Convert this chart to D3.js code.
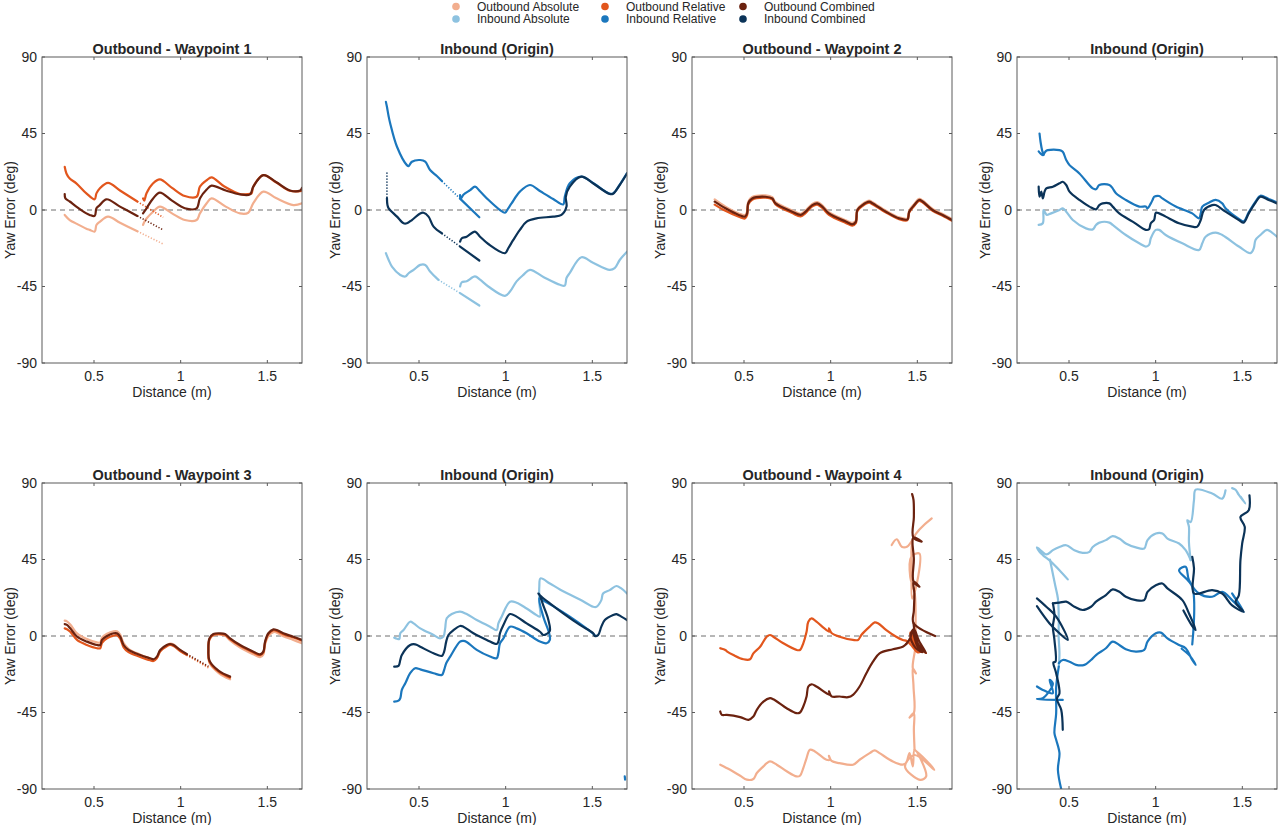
<!DOCTYPE html>
<html>
<head>
<meta charset="utf-8">
<script src="https://cdn.jsdelivr.net/npm/d3@7"></script>
<style>
  body { margin: 0; background: #fff; }
  text { font-family: "Liberation Sans", Arial, Helvetica, sans-serif; fill: #262626; }
</style>
</head>
<body>
<div id="chart"></div>
<script>
// Axis setup shared by every panel
const xDomain = [0.2, 1.7];
const yDomain = [-90, 90];
const xTicks = [0.5, 1, 1.5];
const yTicks = [-90, -45, 0, 45, 90];

const seriesNames = ["Outbound Absolute", "Outbound Relative", "Outbound Combined",
                     "Inbound Absolute", "Inbound Relative", "Inbound Combined"];
const seriesColors = ["#f2ae8e", "#e2561d", "#6b220f", "#8dc2e0", "#1b77bd", "#0b3358"];

const panelTitles = ["Outbound - Waypoint 1", "Inbound (Origin)", "Outbound - Waypoint 2", "Inbound (Origin)",
                     "Outbound - Waypoint 3", "Inbound (Origin)", "Outbound - Waypoint 4", "Inbound (Origin)"];

/* Traces, [distance (m), yaw error (deg)], one array per continuous piece.
   The *Dots arrays are the stretches where samples are sparse. */

// Outbound - Waypoint 1
const wp1Abs = [
  [[0.331,-2.9],[0.36,-5.9],[0.398,-8],[0.456,-11],[0.475,-11.7],[0.504,-12.7],[0.514,-8.8],[0.533,-7],[0.581,-3.9],[0.65,-7.5],[0.75,-12.5]],
  [[0.783,-8.8],[0.79,-7],[0.803,-5],[0.841,-1],[0.88,2],[0.95,-2],[1.024,-5.9],[1.092,-5.9],[1.111,-2],[1.15,4],[1.178,6.8],[1.26,2],[1.342,-2],[1.39,-1.6],[1.419,4],[1.477,10.8],[1.55,7],[1.65,2.9],[1.7,3.9]]
];
const wp1AbsDots = [[[0.75,-12.5],[0.899,-20]]];
const wp1Rel = [
  [[0.331,25.4],[0.341,21.5],[0.36,18.5],[0.398,15.7],[0.456,9.8],[0.504,6.3],[0.514,9.8],[0.533,12.7],[0.581,16],[0.65,11.5],[0.75,5]],
  [[0.783,6.8],[0.79,5.5],[0.803,9.8],[0.841,15.7],[0.88,18],[0.95,13],[1.024,8.2],[1.092,7.8],[1.111,13.7],[1.15,17.5],[1.178,19.2],[1.25,14],[1.342,9.4],[1.39,9.4],[1.409,9.8],[1.419,13.7],[1.477,20.5],[1.55,16.3],[1.63,11.3],[1.7,11.3]]
];
const wp1RelDots = [[[0.75,5],[0.899,-4.3]]];
const wp1Comb = [
  [[0.331,9.4],[0.335,6.8],[0.36,5],[0.398,2],[0.456,-2],[0.475,-2.9],[0.504,-3.5],[0.514,1],[0.533,2.9],[0.572,6.3],[0.65,2],[0.75,-3.5]],
  [[0.783,-2],[0.79,-1],[0.803,1],[0.841,6.8],[0.88,10.2],[0.95,5.5],[1.024,1],[1.092,1],[1.111,6.8],[1.15,12],[1.178,14.3],[1.26,11.5],[1.342,9.2],[1.4,9.2],[1.419,13.7],[1.477,20.5],[1.55,16.5],[1.63,11.5],[1.69,11.5],[1.7,13]]
];
const wp1CombDots = [[[0.75,-3.5],[0.899,-11.7]]];

// Inbound (Origin) after waypoint 1
const in1Abs = [
  [[0.309,-25.4],[0.325,-29.4],[0.344,-33.3],[0.392,-38.2],[0.421,-39.1],[0.44,-37.2],[0.469,-35.2],[0.507,-32.3],[0.536,-32.3],[0.564,-36.2],[0.612,-41.1]],
  [[0.737,-48.9],[0.848,-56.2]],
  [[0.737,-45],[0.747,-42.5],[0.775,-41.9],[0.823,-39.1],[0.852,-41],[0.9,-45],[0.996,-50.5],[1.025,-48],[1.063,-42],[1.102,-38.2],[1.14,-35.2],[1.22,-39.5],[1.313,-44],[1.341,-44.5],[1.351,-40],[1.37,-37],[1.437,-27.8],[1.504,-31],[1.6,-35.2],[1.629,-34.2],[1.658,-29.4],[1.7,-24.5]]
];
const in1AbsDots = [[[0.612,-41.1],[0.737,-48.9]]];
const in1Rel = [
  [[0.309,63.6],[0.315,60.7],[0.325,55],[0.334,50.9],[0.373,37.2],[0.43,26.4],[0.44,25.8],[0.459,28.4],[0.507,29.4],[0.536,28.4],[0.564,23.5],[0.603,20],[0.632,17]],
  [[0.737,6.7],[0.848,-4.3]],
  [[0.737,8.8],[0.74,6.5],[0.756,9],[0.795,11.7],[0.823,13.7],[0.852,11],[0.9,6],[0.967,0],[0.996,-1.6],[1.015,1],[1.034,3.9],[1.082,10.8],[1.14,14.7],[1.2,11],[1.274,6.5],[1.332,3.3],[1.341,7.8],[1.37,15.7],[1.437,19.6],[1.504,15.9],[1.6,9.6],[1.62,9.8],[1.658,14.9],[1.7,21.7]]
];
const in1RelDots = [[[0.632,17],[0.737,6.7]]];
const in1Comb = [
  [[0.315,7],[0.318,3],[0.325,1],[0.373,-3.9],[0.411,-7.8],[0.43,-7.8],[0.459,-5.9],[0.507,-2],[0.526,-1.6],[0.555,-3.9],[0.584,-9.8],[0.632,-13.7]],
  [[0.737,-21.5],[0.848,-29.7]],
  [[0.737,-18.6],[0.747,-16.6],[0.775,-15.7],[0.823,-12.7],[0.852,-15.7],[0.9,-20],[0.996,-25.4],[1.015,-22.5],[1.044,-17.6],[1.082,-11.7],[1.121,-6.8],[1.178,-4.9],[1.274,-3.9],[1.322,-2.9],[1.351,2],[1.347,7.8],[1.37,13.7],[1.437,19.6],[1.504,15.7],[1.6,9.4],[1.62,9.6],[1.658,14.7],[1.7,21.5]]
];
const in1CombDots = [[[0.315,22],[0.315,7]], [[0.632,-13.7],[0.737,-21.5]]];

// Outbound - Waypoint 2
const wp2Abs = [
  [[0.331,6.2],[0.393,2],[0.47,-2],[0.505,-3],[0.518,-1],[0.524,4.8],[0.547,7.6],[0.624,8.6],[0.663,7.6],[0.682,4.6],[0.778,-0.3],[0.827,-2.2],[0.855,-0.3],[0.894,3.6],[0.923,4.6],[0.952,2.7],[0.99,-1.3],[1.087,-6],[1.125,-7.6],[1.145,-6.3],[1.154,0.6],[1.183,3.5],[1.222,5.5],[1.241,4.6],[1.319,-0.4],[1.395,-4.3],[1.443,-4.9],[1.453,-0.4],[1.482,3.5],[1.511,6.5],[1.53,5.6],[1.588,0.6],[1.646,-2.3],[1.7,-5.3]]
];
const wp2Rel = [
  [[0.331,3.2],[0.393,-0.5],[0.47,-4],[0.505,-5],[0.518,-3],[0.524,3],[0.547,6],[0.624,7.2],[0.663,6.3],[0.682,3.3],[0.778,-1.8],[0.827,-3.8],[0.855,-1.8],[0.894,2.2],[0.923,3.2],[0.952,1.2],[0.99,-2.8],[1.087,-7.6],[1.125,-9.2],[1.145,-7.8],[1.154,-0.6],[1.183,2.3],[1.222,4.3],[1.241,3.4],[1.319,-1.5],[1.395,-5.4],[1.443,-6],[1.453,-1.5],[1.482,2.4],[1.511,5.4],[1.53,4.5],[1.588,-0.5],[1.646,-3.4],[1.7,-6.4]]
];
const wp2Comb = [
  [[0.331,4.9],[0.393,1],[0.47,-2.9],[0.505,-3.9],[0.518,-2],[0.524,3.9],[0.547,6.8],[0.624,7.8],[0.663,6.8],[0.682,3.9],[0.778,-1],[0.827,-2.9],[0.855,-1],[0.894,2.9],[0.923,3.9],[0.952,2],[0.99,-2],[1.087,-6.8],[1.125,-8.4],[1.145,-7],[1.154,0],[1.183,2.9],[1.222,4.9],[1.241,4],[1.319,-1],[1.395,-4.9],[1.443,-5.5],[1.453,-1],[1.482,2.9],[1.511,5.9],[1.53,5],[1.588,0],[1.646,-2.9],[1.7,-5.9]]
];

// Inbound (Origin) after waypoint 2
const in2Abs = [
  [[0.325,-8.8],[0.349,-7.8],[0.353,0],[0.365,-2],[0.372,-2.9],[0.397,-2],[0.445,0],[0.464,1],[0.484,-1],[0.522,-5.9],[0.598,-10.8],[0.637,-11.4],[0.656,-8.8],[0.675,-7.4],[0.733,-7.4],[0.752,-8.8],[0.828,-14.7],[0.905,-19.6],[0.943,-21.5],[0.962,-20.5],[0.972,-16.6],[1.001,-11.7],[1.02,-11.7],[1.058,-14.7],[1.154,-19.6],[1.25,-23.5],[1.269,-19.6],[1.288,-15.7],[1.346,-13.3],[1.384,-14.7],[1.48,-21.5],[1.547,-25.4],[1.566,-22.5],[1.576,-17.6],[1.604,-14.7],[1.643,-11.7],[1.671,-13.3],[1.7,-15.7]]
];
const in2Rel = [
  [[0.33,45],[0.336,40],[0.345,35],[0.353,32.5],[0.349,32.3],[0.335,33.3],[0.325,34.5]],
  [[0.353,32.5],[0.365,34.5],[0.378,35.2],[0.445,35.2],[0.464,34.2],[0.484,29.4],[0.503,26.4],[0.56,21.5],[0.637,12.7],[0.656,12.2],[0.675,14.7],[0.733,14.7],[0.752,12.7],[0.771,9.8],[0.828,5.9],[0.905,2],[0.943,2],[0.953,1],[0.972,3.9],[0.982,5.9],[0.991,7.8],[1.001,8.2],[1.02,8.2],[1.039,6.8],[1.116,2],[1.211,-2],[1.25,-4.9],[1.26,-2],[1.269,2],[1.307,4.3],[1.346,5.9],[1.384,3.9],[1.403,1],[1.48,-5.2],[1.508,-6.6],[1.537,-1.4],[1.576,4.9],[1.604,8.4],[1.652,6.5],[1.7,4.5]]
];
const in2Comb = [
  [[0.325,13.7],[0.33,7.8],[0.34,10.8],[0.349,6.8],[0.359,10.8],[0.369,12.7],[0.407,13.7],[0.445,15.7],[0.464,16.6],[0.484,14.7],[0.503,10.8],[0.56,5.9],[0.618,2],[0.656,0.4],[0.675,2.9],[0.694,3.9],[0.733,3.9],[0.752,2],[0.79,-2],[0.867,-6.8],[0.943,-11.7],[0.962,-11.3],[0.972,-7.8],[0.991,-5.9],[1.001,-1.6],[1.02,-2],[1.058,-3.9],[1.135,-7.8],[1.211,-9.8],[1.24,-9.8],[1.26,-5.9],[1.279,0],[1.326,2.9],[1.346,2.9],[1.403,-1],[1.48,-5.9],[1.508,-7.4],[1.537,-2],[1.576,4.3],[1.604,7.8],[1.652,5.9],[1.7,3.9]]
];

// Outbound - Waypoint 3
const wp3Abs = [
  [[0.331,9],[0.344,8.6],[0.363,6.8],[0.402,1.5],[0.459,-1.8],[0.517,-3.8],[0.536,-3.8],[0.546,-1],[0.575,1.3],[0.613,2.8],[0.632,2.8],[0.651,0.8],[0.671,-4.2],[0.699,-7.5],[0.767,-11],[0.824,-13.5],[0.843,-14.5],[0.863,-13],[0.882,-9],[0.92,-5.6],[0.939,-4.5],[0.959,-5],[0.997,-8.5],[1.035,-11.3]],
  [[1.285,-25.5],[1.22,-21.8],[1.166,-15.8],[1.16,-9],[1.166,-2.2],[1.189,0.4],[1.227,1],[1.256,0.2],[1.285,-2.6],[1.343,-6.8],[1.42,-10.8],[1.458,-12.5],[1.477,-10.8],[1.487,-5],[1.506,0],[1.535,2.3],[1.554,2],[1.592,-0.2],[1.65,-2.3],[1.7,-4.3]]
];
const wp3AbsDots = [[[1.035,-11.3],[1.16,-18.8]]];
const wp3Rel = [
  [[0.331,4.5],[0.344,4],[0.363,2.5],[0.402,-2.3],[0.459,-5.3],[0.517,-7.2],[0.536,-7.2],[0.546,-4],[0.575,-1.4],[0.613,0.2],[0.632,0.4],[0.651,-1.5],[0.671,-6.7],[0.699,-9.5],[0.767,-12.3],[0.824,-14.3],[0.843,-14.7],[0.863,-13],[0.882,-9],[0.92,-6],[0.939,-5.3],[0.959,-5.9],[0.997,-8.8],[1.035,-11]],
  [[1.285,-24.5],[1.22,-21],[1.166,-15],[1.16,-8.6],[1.166,-1.9],[1.189,0.7],[1.227,1.1],[1.256,0.7],[1.285,-1.9],[1.343,-5.8],[1.42,-9.7],[1.458,-11.3],[1.477,-9.7],[1.487,-3.8],[1.506,1.1],[1.535,3.4],[1.554,3],[1.592,1.1],[1.65,-0.9],[1.7,-2.8]]
];
const wp3RelDots = [[[1.035,-11],[1.16,-18.3]]];
const wp3Comb = [
  [[0.331,7],[0.344,6.5],[0.363,4.5],[0.402,-0.4],[0.459,-3.3],[0.517,-5.3],[0.536,-5.3],[0.546,-2.3],[0.575,0],[0.613,1.6],[0.632,1.6],[0.651,-0.4],[0.671,-5.3],[0.699,-8.2],[0.767,-11.2],[0.824,-13.1],[0.843,-13.7],[0.863,-12.1],[0.882,-8.2],[0.92,-5.3],[0.939,-4.7],[0.959,-5.3],[0.997,-8.2],[1.035,-10.6]],
  [[1.285,-23.9],[1.22,-20.5],[1.166,-14.5],[1.16,-8.2],[1.166,-1.4],[1.189,1.2],[1.227,1.6],[1.256,1.2],[1.285,-1.4],[1.343,-5.3],[1.42,-9.2],[1.458,-10.8],[1.477,-9.2],[1.487,-3.3],[1.506,1.6],[1.535,3.9],[1.554,3.5],[1.592,1.6],[1.65,-0.4],[1.7,-2.3]]
];
const wp3CombDots = [[[1.035,-10.6],[1.16,-17.8]]];

// Inbound (Origin) after waypoint 3
const in3Abs = [
  [[0.357,-1],[0.373,-1.6],[0.386,-1.8],[0.392,1.6],[0.411,3.5],[0.449,8.4],[0.469,7.4],[0.507,4.5],[0.584,0.6],[0.622,-1.4],[0.641,-0.4],[0.651,4.5],[0.66,10.4],[0.689,12.9],[0.737,14.3],[0.775,12.9],[0.833,9.4],[0.91,5.5],[0.948,3.5],[0.958,7.4],[0.977,11.4],[1.025,20.2],[1.063,19.6],[1.121,16.2],[1.178,12.3],[1.198,11.4],[1.194,20],[1.194,29],[1.201,33.9],[1.255,30.9],[1.313,27.4],[1.428,21.5],[1.505,17.2],[1.524,17.2],[1.552,21.1],[1.562,25],[1.6,27],[1.639,29.4],[1.667,28],[1.7,25]]
];
const in3Rel = [
  [[0.357,-38.6],[0.382,-38],[0.392,-36.6],[0.401,-31.7],[0.421,-27.8],[0.449,-21.9],[0.478,-19],[0.507,-19.6],[0.584,-21.9],[0.632,-22.9],[0.645,-20],[0.657,-16],[0.68,-12.1],[0.737,-3.3],[0.756,-2.9],[0.775,-3.5],[0.833,-8.2],[0.91,-12.1],[0.948,-13.1],[0.958,-10],[0.967,-4.3],[0.987,-1.4],[1.025,5.5],[1.063,4.5],[1.121,1.6],[1.198,-3.3],[1.236,-4.3],[1.255,-2.3],[1.251,1.6],[1.217,11.4],[1.194,22.1],[1.207,21.5],[1.274,17.6],[1.37,11.4],[1.466,4.5],[1.514,0.6]],
  [[1.687,-82.5],[1.689,-84.5]]
];
const in3Comb = [
  [[0.357,-18],[0.382,-17.6],[0.392,-14.1],[0.401,-11.2],[0.449,-5.3],[0.478,-4.9],[0.507,-6.3],[0.584,-10.2],[0.632,-11.7],[0.645,-9.2],[0.657,-3.3],[0.67,0.6],[0.699,3.5],[0.737,5.9],[0.756,5.5],[0.814,1.6],[0.891,-2.3],[0.948,-4.7],[0.958,-3.3],[0.967,1.6],[0.987,6.5],[1.025,12.9],[1.063,11.4],[1.121,7.4],[1.198,2.5],[1.217,0.6],[1.236,1.2],[1.255,3],[1.245,10],[1.217,18],[1.194,24.5],[1.188,25],[1.207,23.1],[1.255,19.2],[1.332,13.3],[1.428,6.5],[1.505,1.6],[1.514,0],[1.533,0.5],[1.552,5.5],[1.572,9.4],[1.62,12.3],[1.639,12.9],[1.667,11.4],[1.7,9.4]]
];

// Outbound - Waypoint 4
const wp4Abs = [
  [[0.363,-75.7],[0.42,-78.7],[0.478,-82.2],[0.516,-84.5],[0.554,-84.1],[0.574,-80.6],[0.612,-76.7],[0.631,-74.8],[0.65,-73.8],[0.689,-75.7],[0.746,-79.6],[0.803,-82.6],[0.823,-82.2],[0.842,-77.7],[0.861,-71.8],[0.88,-66.9],[0.909,-67.9],[0.976,-72.8],[0.995,-72.8],[0.99,-70.5],[1.005,-73.5],[1.052,-74.8],[1.129,-75.7],[1.167,-72.8],[1.225,-68.9],[1.254,-67.3],[1.282,-68.9],[1.359,-73.8],[1.416,-75.7],[1.436,-74.5],[1.455,-68.9],[1.474,-76.7],[1.484,-66.9],[1.551,-82.6],[1.516,-84.6],[1.429,-76.8],[1.484,-70],[1.598,-78.7],[1.53,-71],[1.484,-66.9]],
  [[1.484,-66.9],[1.48,-55],[1.48,-45.4],[1.455,-48],[1.48,-45.4],[1.478,-29.7],[1.474,-19],[1.492,-22],[1.474,-19],[1.489,-6.3],[1.49,5],[1.485,25],[1.459,34.8],[1.465,46.6],[1.512,48.5],[1.505,35],[1.47,22],[1.468,40],[1.477,57.5],[1.583,69.2]],
  [[1.352,53.5],[1.381,56.9],[1.41,52.5],[1.44,52.5],[1.477,57.5]]
];
const wp4Rel = [
  [[0.363,-7.2],[0.372,-7.5],[0.392,-8.2],[0.401,-9],[0.439,-11.2],[0.497,-13.7],[0.535,-13.7],[0.554,-10.2],[0.593,-6.3],[0.631,-0.4],[0.65,0.6],[0.669,-0.4],[0.727,-4.3],[0.803,-8.2],[0.823,-8.2],[0.842,-4.3],[0.861,2.5],[0.871,8.4],[0.89,10.4],[0.918,8.4],[0.976,3.5],[0.995,2.5],[0.99,4.5],[1.005,1.8],[1.052,-0.4],[1.129,-2.3],[1.158,-2.3],[1.177,0.6],[1.225,5.5],[1.254,8],[1.273,7.5],[1.321,3.5],[1.378,-0.4],[1.416,-2.3],[1.44,-3],[1.47,-6],[1.5,-9.5],[1.52,-9],[1.47,-2],[1.46,2],[1.5,-5],[1.55,-10],[1.52,-8],[1.46,-3]]
];
const wp4Comb = [
  [[0.363,-44.4],[0.372,-46.4],[0.401,-46.4],[0.478,-47.7],[0.526,-49.3],[0.554,-47.4],[0.574,-43.4],[0.612,-38.6],[0.65,-36.6],[0.669,-37.2],[0.746,-42.5],[0.803,-45.4],[0.823,-45],[0.842,-41.5],[0.861,-35.6],[0.871,-29.7],[0.89,-28.4],[0.918,-29.7],[0.976,-33.7],[0.995,-34.6],[0.99,-32.5],[1.005,-35.5],[1.052,-35.6],[1.1,-36],[1.129,-34.6],[1.167,-29.7],[1.206,-21.9],[1.244,-15.1],[1.282,-10.2],[1.359,-7.8],[1.416,-6.3],[1.436,-4.7]],
  [[1.436,-4.7],[1.46,-1],[1.47,3],[1.5,-6],[1.53,-9.5],[1.49,-7],[1.46,0],[1.48,4],[1.51,-3],[1.55,-10],[1.5,-4],[1.478,7.6]],
  [[1.602,0],[1.478,7.6],[1.48,15],[1.483,25],[1.478,32],[1.512,29],[1.478,32],[1.48,45],[1.477,58],[1.525,55.5],[1.477,58],[1.48,70],[1.478,80],[1.47,83.5]]
];

// Inbound (Origin) after waypoint 4
const in4Abs = [
  [[0.493,33.3],[0.445,38.7],[0.397,43.6],[0.349,47.6],[0.33,49.5],[0.315,52.1],[0.33,51],[0.37,48],[0.407,50.5],[0.445,52.4],[0.484,53.4],[0.531,50.5],[0.579,48.9],[0.618,49.5],[0.637,52.4],[0.675,54.8],[0.713,56.4],[0.752,58.7],[0.79,57.3],[0.828,54.4],[0.886,52.1],[0.934,51.5],[0.953,56.4],[1.001,60.3],[1.039,60.3],[1.068,57.3],[1.135,54.4],[1.173,50.5],[1.202,44.6]],
  [[0.39,45],[0.42,30],[0.436,22],[0.441,10],[0.44,0],[0.445,-10],[0.441,-18]],
  [[1.202,44.6],[1.192,55],[1.192,64.2],[1.183,68.1],[1.202,67],[1.221,79.8],[1.231,86.1],[1.326,83.8],[1.384,80.8],[1.403,85.7]],
  [[1.441,87],[1.461,86],[1.48,83],[1.518,77.9],[1.49,82]]
];
const in4Rel = [
  [[0.315,-29.7],[0.349,-31.7],[0.407,-33.7],[0.388,-25.8],[0.407,-28],[0.349,-36.6],[0.315,-37.2],[0.464,-37.6]],
  [[0.441,-18],[0.426,-30],[0.426,-45.4],[0.416,-57.1],[0.426,-61],[0.445,-68.9],[0.436,-78.7],[0.455,-90]],
  [[0.441,-16],[0.464,-14.1],[0.503,-15.1],[0.541,-17],[0.589,-17],[0.627,-14.1],[0.656,-11.2],[0.713,-7.2],[0.752,-3.3],[0.79,-5.3],[0.828,-7.8],[0.886,-9.2],[0.934,-8.2],[0.953,-3.3],[1.001,1.6],[1.03,2],[1.068,-1.4],[1.135,-5.3],[1.173,-7.2],[1.211,-14.1],[1.231,-17],[1.2,-12],[1.15,-7.5]],
  [[1.211,-5],[1.211,29],[1.135,38.7],[1.173,40.7],[1.192,33],[1.25,25],[1.326,23.1],[1.384,26],[1.441,21.1],[1.508,14.3],[1.441,25],[1.46,22]]
];
const in4Comb = [
  [[0.315,22.1],[0.369,17.2],[0.426,11.4],[0.493,-2.3],[0.445,1.6],[0.388,7.4],[0.315,17.6]],
  [[0.407,19.2],[0.416,12.3],[0.407,5.5],[0.416,-2.3],[0.422,-15.1],[0.41,-15.5],[0.426,-21.9],[0.445,-33.7],[0.43,-37],[0.455,-43.4],[0.464,-55.2]],
  [[0.407,19.2],[0.445,19.6],[0.484,20.2],[0.531,17.2],[0.579,15.3],[0.627,17.2],[0.656,20.2],[0.713,24.1],[0.752,27.4],[0.79,26],[0.828,23.1],[0.886,21.1],[0.934,21.1],[0.953,26],[1.001,29.9],[1.039,30.9],[1.068,28],[1.154,21.1],[1.192,13.3],[1.231,3.5],[1.21,6],[1.16,15]],
  [[1.211,46.6],[1.221,40],[1.221,25],[1.326,27],[1.384,25],[1.441,18],[1.508,14.3],[1.461,20],[1.48,24],[1.489,44.6],[1.499,54.4],[1.514,64.2],[1.489,70],[1.537,74],[1.541,82.8]]
];

// Which traces go in which panel (first three colours outbound, last three inbound)
const panelTraces = [
  { group: 0, lines: [wp1Abs, wp1Rel, wp1Comb], dots: [wp1AbsDots, wp1RelDots, wp1CombDots] },
  { group: 1, lines: [in1Abs, in1Rel, in1Comb], dots: [in1AbsDots, in1RelDots, in1CombDots] },
  { group: 0, lines: [wp2Abs, wp2Rel, wp2Comb], dots: [[], [], []] },
  { group: 1, lines: [in2Abs, in2Rel, in2Comb], dots: [[], [], []] },
  { group: 0, lines: [wp3Abs, wp3Rel, wp3Comb], dots: [wp3AbsDots, wp3RelDots, wp3CombDots] },
  { group: 1, lines: [in3Abs, in3Rel, in3Comb], dots: [[], [], []] },
  { group: 0, lines: [wp4Abs, wp4Rel, wp4Comb], dots: [[], [], []] },
  { group: 1, lines: [in4Abs, in4Rel, in4Comb], dots: [[], [], []] }
];

// Layout
const width = 1280, height = 825;
const plotW = 260, plotH = 306;
const colStep = 325, rowStep = 426;
const firstLeft = 42, firstTop = 57;

const svg = d3.select("#chart")
    .append("svg")
    .attr("width", width)
    .attr("height", height);

const x = d3.scaleLinear().domain(xDomain).range([0, plotW]);
const y = d3.scaleLinear().domain(yDomain).range([plotH, 0]);

const line = d3.line()
    .curve(d3.curveCatmullRom.alpha(0.5))
    .x(d => x(d[0]))
    .y(d => y(d[1]));

panelTraces.forEach((p, i) => {
    const col = i % 4, row = Math.floor(i / 4);
    const g = svg.append("g")
        .attr("transform", "translate(" + (firstLeft + col * colStep) + "," + (firstTop + row * rowStep) + ")");

    g.append("clipPath")
        .attr("id", "clip" + i)
        .append("rect")
        .attr("width", plotW)
        .attr("height", plotH);

    // zero reference line
    g.append("line")
        .attr("x1", 0).attr("x2", plotW)
        .attr("y1", y(0)).attr("y2", y(0))
        .attr("stroke", "#6e6e6e")
        .attr("stroke-width", 1)
        .attr("stroke-dasharray", "5,4");

    const plot = g.append("g").attr("clip-path", "url(#clip" + i + ")");

    p.lines.forEach((segs, k) => {
        const color = seriesColors[p.group * 3 + k];
        plot.selectAll(null)
            .data(p.dots[k])
            .enter().append("path")
            .attr("d", line)
            .attr("fill", "none")
            .attr("stroke", color)
            .attr("stroke-width", 1.6)
            .attr("stroke-dasharray", "1.2,1.8");
        plot.selectAll(null)
            .data(segs)
            .enter().append("path")
            .attr("d", line)
            .attr("fill", "none")
            .attr("stroke", color)
            .attr("stroke-width", 2.2)
            .attr("stroke-linejoin", "round")
            .attr("stroke-linecap", "round");
    });

    // box
    g.append("rect")
        .attr("width", plotW)
        .attr("height", plotH)
        .attr("fill", "none")
        .attr("stroke", "#5a5a5a")
        .attr("stroke-width", 1);

    // ticks inside on all four sides
    const tickLen = 3;
    xTicks.forEach(t => {
        g.append("line").attr("x1", x(t)).attr("x2", x(t)).attr("y1", plotH).attr("y2", plotH - tickLen).attr("stroke", "#5a5a5a");
        g.append("line").attr("x1", x(t)).attr("x2", x(t)).attr("y1", 0).attr("y2", tickLen).attr("stroke", "#5a5a5a");
        g.append("text")
            .attr("x", x(t))
            .attr("y", plotH + 18)
            .attr("text-anchor", "middle")
            .style("font-size", "14px")
            .text(t);
    });
    yTicks.forEach(t => {
        g.append("line").attr("x1", 0).attr("x2", tickLen).attr("y1", y(t)).attr("y2", y(t)).attr("stroke", "#5a5a5a");
        g.append("line").attr("x1", plotW).attr("x2", plotW - tickLen).attr("y1", y(t)).attr("y2", y(t)).attr("stroke", "#5a5a5a");
        g.append("text")
            .attr("x", -5)
            .attr("y", y(t))
            .attr("dy", "0.35em")
            .attr("text-anchor", "end")
            .style("font-size", "14px")
            .text(t);
    });

    g.append("text")
        .attr("x", plotW / 2)
        .attr("y", plotH + 34)
        .attr("text-anchor", "middle")
        .style("font-size", "14px")
        .text("Distance (m)");

    g.append("text")
        .attr("transform", "translate(-27," + (plotH / 2) + ") rotate(-90)")
        .attr("text-anchor", "middle")
        .style("font-size", "14px")
        .text("Yaw Error (deg)");

    g.append("text")
        .attr("x", plotW / 2)
        .attr("y", -3)
        .attr("text-anchor", "middle")
        .style("font-size", "14.5px")
        .style("font-weight", "bold")
        .text(panelTitles[i]);
});

// Legend, three columns of two rows
const legendCols = [456, 605, 743];
const legendRows = [6.5, 19];
const legendOrder = [0, 3, 1, 4, 2, 5];
const legend = svg.append("g");
legendOrder.forEach((s, j) => {
    const cx = legendCols[Math.floor(j / 2)], cy = legendRows[j % 2];
    legend.append("circle")
        .attr("cx", cx).attr("cy", cy).attr("r", 3.8)
        .attr("fill", seriesColors[s]);
    legend.append("text")
        .attr("x", cx + 21).attr("y", cy)
        .attr("dy", "0.35em")
        .style("font-size", "12px")
        .text(seriesNames[s]);
});
</script>
</body>
</html>
